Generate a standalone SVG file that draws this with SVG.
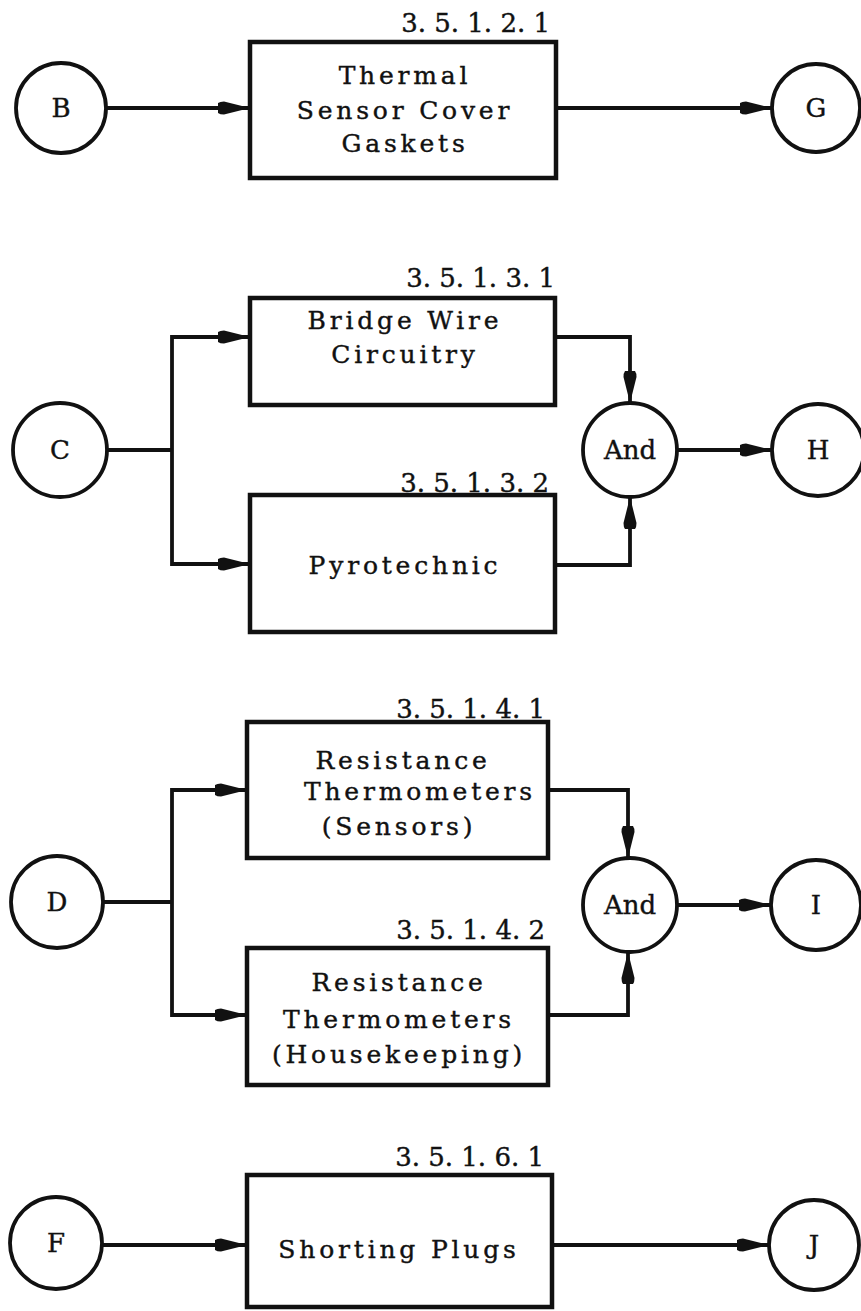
<svg xmlns="http://www.w3.org/2000/svg" width="861" height="1311" viewBox="0 0 861 1311">
<defs>
<style>
.box{fill:#fff;stroke:#111;stroke-width:4.5}
.circ{fill:#fff;stroke:#111;stroke-width:3.8}
.t{font-family:"DejaVu Serif","Liberation Serif",serif;font-size:25px;fill:#111;stroke:#111;stroke-width:0.4;text-anchor:middle;letter-spacing:3.8px}
.lbl{font-family:"DejaVu Serif","Liberation Serif",serif;font-size:26px;fill:#111;stroke:#111;stroke-width:0.4;text-anchor:end}
.ct{font-family:"DejaVu Serif","Liberation Serif",serif;font-size:26px;fill:#111;stroke:#111;stroke-width:0.4;text-anchor:middle}
.c{fill:none;stroke:#111;stroke-width:3.8;marker-end:url(#ah)}
.cn{fill:none;stroke:#111;stroke-width:3.8}
</style>
<marker id="ah" markerUnits="userSpaceOnUse" markerWidth="34" markerHeight="16" refX="32" refY="8" orient="auto">
<path d="M0,3 Q2,1.5 6,1.5 L32,8 L6,14.5 Q2,14.5 0,13 Z" fill="#111"/>
</marker>
</defs>

<g id="connectors">
<path class="c" d="M107,108 H250"/>
<path class="c" d="M557,108 H772"/>
<path class="cn" d="M107,450 H172"/>
<path class="c" d="M172,450 V337 H250"/>
<path class="c" d="M172,450 V564 H250"/>
<path class="c" d="M555,337 H630 V403"/>
<path class="c" d="M555,565 H630 V497"/>
<path class="c" d="M677,450 H772"/>
<path class="cn" d="M103,902 H172"/>
<path class="c" d="M172,902 V790 H247"/>
<path class="c" d="M172,902 V1015 H247"/>
<path class="c" d="M548,790 H628 V858"/>
<path class="c" d="M548,1015 H628 V952"/>
<path class="c" d="M677,905 H771"/>
<path class="c" d="M102,1245 H247"/>
<path class="c" d="M552,1245 H769"/>
</g>

<g id="node-B"><circle class="circ" cx="61" cy="108" r="45"/><text class="ct" x="61" y="117">B</text></g>
<g id="node-G"><circle class="circ" cx="816" cy="108" r="44"/><text class="ct" x="816" y="117">G</text></g>
<g id="node-3.5.1.2.1">
<rect class="box" x="250" y="42" width="306" height="136"/>
<text class="lbl" x="550" y="32">3. 5. 1. 2. 1</text>
<text class="t" x="405" y="84">Thermal</text>
<text class="t" x="405" y="119">Sensor Cover</text>
<text class="t" x="405" y="152">Gaskets</text>
</g>

<g id="node-C"><circle class="circ" cx="60" cy="450" r="47"/><text class="ct" x="60" y="459">C</text></g>
<g id="node-3.5.1.3.1">
<rect class="box" x="250" y="298" width="305" height="107"/>
<text class="lbl" x="555" y="287">3. 5. 1. 3. 1</text>
<text class="t" x="405" y="329">Bridge Wire</text>
<text class="t" x="405" y="363">Circuitry</text>
</g>
<g id="node-3.5.1.3.2">
<rect class="box" x="250" y="495" width="305" height="137"/>
<text class="lbl" x="549" y="492">3. 5. 1. 3. 2</text>
<text class="t" x="405" y="574">Pyrotechnic</text>
</g>
<g id="node-And1"><circle class="circ" cx="630" cy="450" r="47"/><text class="ct" x="630" y="459">And</text></g>
<g id="node-H"><circle class="circ" cx="818" cy="450" r="46"/><text class="ct" x="818" y="459">H</text></g>

<g id="node-D"><circle class="circ" cx="57" cy="902" r="46"/><text class="ct" x="57" y="911">D</text></g>
<g id="node-3.5.1.4.1">
<rect class="box" x="247" y="722" width="301" height="136"/>
<text class="lbl" x="545" y="718">3. 5. 1. 4. 1</text>
<text class="t" x="403" y="769">Resistance</text>
<text class="t" x="420" y="800">Thermometers</text>
<text class="t" x="399" y="835">(Sensors)</text>
</g>
<g id="node-3.5.1.4.2">
<rect class="box" x="247" y="948" width="301" height="137"/>
<text class="lbl" x="545" y="939">3. 5. 1. 4. 2</text>
<text class="t" x="399" y="991">Resistance</text>
<text class="t" x="399" y="1028">Thermometers</text>
<text class="t" x="399" y="1063">(Housekeeping)</text>
</g>
<g id="node-And2"><circle class="circ" cx="630" cy="905" r="47"/><text class="ct" x="630" y="914">And</text></g>
<g id="node-I"><circle class="circ" cx="816" cy="905" r="45"/><text class="ct" x="816" y="914">I</text></g>

<g id="node-F"><circle class="circ" cx="56" cy="1243" r="46"/><text class="ct" x="56" y="1252">F</text></g>
<g id="node-3.5.1.6.1">
<rect class="box" x="247" y="1175" width="305" height="132"/>
<text class="lbl" x="544" y="1166">3. 5. 1. 6. 1</text>
<text class="t" x="399" y="1258">Shorting Plugs</text>
</g>
<g id="node-J"><circle class="circ" cx="814" cy="1245" r="45"/><text class="ct" x="814" y="1254">J</text></g>
</svg>
